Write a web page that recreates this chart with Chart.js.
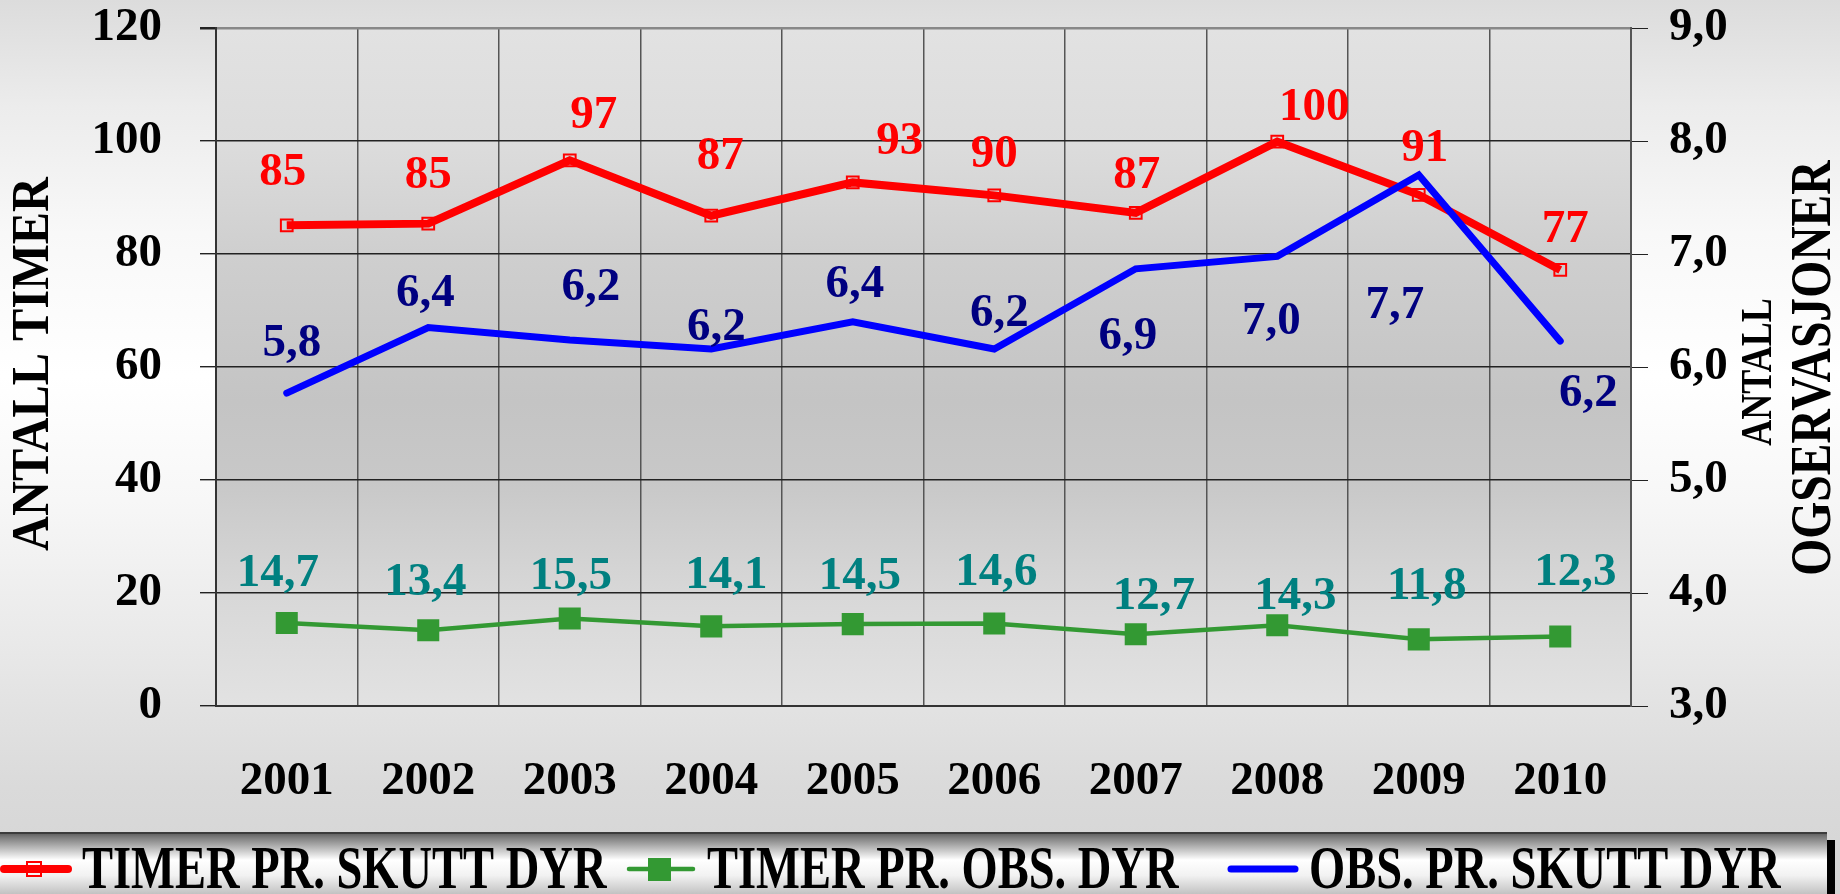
<!DOCTYPE html>
<html>
<head>
<meta charset="utf-8">
<title>Antall timer / observasjoner 2001-2010</title>
<script src="https://cdn.jsdelivr.net/npm/chart.js@4.4.1/dist/chart.umd.min.js"></script>
<style>
    html, body { margin: 0; padding: 0; }
    body {
        width: 1840px;
        height: 894px;
        overflow: hidden;
        background: linear-gradient(to bottom, #dcdcdc 0%, #ececec 12%, #f8f8f8 26%, #ffffff 42%, #f7f7f7 56%, #e9e9e9 72%, #dadada 88%, #d4d4d4 100%);
    }
    canvas { display: block; }
</style>
</head>
<body>
<canvas id="chart" width="1840" height="894"></canvas>
<script>
const years = ['2001', '2002', '2003', '2004', '2005', '2006', '2007', '2008', '2009', '2010'];
const timerPrSkutt = [85.1, 85.4, 96.6, 86.8, 92.7, 90.4, 87.3, 99.9, 90.5, 77.2];
const timerPrObs = [14.7, 13.4, 15.5, 14.1, 14.5, 14.6, 12.7, 14.3, 11.8, 12.3];
const obsPrSkutt = [5.77, 6.35, 6.24, 6.16, 6.40, 6.16, 6.87, 6.98, 7.70, 6.23];
const seriesNames = ['TIMER PR. SKUTT DYR', 'TIMER PR. OBS. DYR', 'OBS. PR. SKUTT DYR'];
const leftTitle = 'ANTALL TIMER';
const rightTitle = ['ANTALL', 'OGSERVASJONER'];

// where each value label sits relative to its point (dx, dy in px)
const redLabelShift = [[-4, -52], [0, -48], [24, -45], [9, -59], [47, -41], [0, -41], [1, -37], [37, -34], [6, -46], [5, -40]];
const greenLabelShift = [[-9, -49], [-3, -47], [1, -42], [15, -50], [7, -47], [2, -51], [18, -37], [18, -28], [8, -52], [15, -64]];
const blueLabelShift = [[5, -49], [-3, -34], [21, -52], [5, -21], [2, -37], [5, -35], [-8, 68], [-6, 65], [-24, 131], [28, 53]];

const FONT = 'Liberation Serif, Times New Roman, serif';

const comma = (v) => (Math.round(v * 10) / 10).toFixed(1).replace('.', ',');

const plotBackground = {
    id: 'plotBackground',
    beforeDraw(chart) {
        const { ctx, chartArea: a } = chart;
        const g = ctx.createLinearGradient(0, a.top, 0, a.bottom);
        g.addColorStop(0, '#e2e2e2');
        g.addColorStop(0.17, '#dcdcdc');
        g.addColorStop(0.33, '#cfcfcf');
        g.addColorStop(0.55, '#c4c4c4');
        g.addColorStop(0.67, '#c8c8c8');
        g.addColorStop(0.84, '#d8d8d8');
        g.addColorStop(1, '#e2e2e2');
        ctx.save();
        ctx.fillStyle = g;
        ctx.fillRect(a.left, a.top, a.right - a.left, a.bottom - a.top);
        ctx.restore();
    },
};

const valueLabels = {
    id: 'valueLabels',
    afterDatasetsDraw(chart) {
        const { ctx } = chart;
        ctx.save();
        ctx.font = `bold 47px ${FONT}`;
        ctx.textAlign = 'center';
        ctx.textBaseline = 'middle';
        chart.data.datasets.forEach((ds, i) => {
            const meta = chart.getDatasetMeta(i);
            meta.data.forEach((pt, j) => {
                const [dx, dy] = ds.labelShift[j];
                ctx.fillStyle = ds.labelColor;
                ctx.fillText(ds.labelText(ds.data[j]), pt.x + dx, pt.y + dy);
            });
        });
        ctx.restore();
    },
};

function drawCondensed(ctx, text, x, y, sx, angle) {
    ctx.save();
    ctx.translate(x, y);
    ctx.rotate(angle);
    ctx.scale(sx, 1);
    ctx.fillText(text, 0, 0);
    ctx.restore();
}

const axisTitles = {
    id: 'axisTitles',
    afterDraw(chart) {
        const { ctx } = chart;
        ctx.save();
        ctx.fillStyle = '#000';
        ctx.textAlign = 'center';
        ctx.textBaseline = 'middle';
        ctx.font = `bold 52px ${FONT}`;
        drawCondensed(ctx, leftTitle, 35, 364, 0.93, -Math.PI / 2);
        ctx.font = `bold 45px ${FONT}`;
        drawCondensed(ctx, rightTitle[0], 1759, 372, 0.8, -Math.PI / 2);
        ctx.font = `bold 56px ${FONT}`;
        drawCondensed(ctx, rightTitle[1], 1816, 368, 0.85, -Math.PI / 2);
        ctx.restore();
    },
};

const legendBar = {
    id: 'legendBar',
    afterDraw(chart) {
        const { ctx } = chart;
        const top = 832;
        const bottom = 894;
        const right = 1827;
        ctx.save();
        ctx.fillStyle = '#000';
        ctx.fillRect(right, top + 8, 8, bottom - top);

        const g = ctx.createLinearGradient(0, top, 0, bottom);
        g.addColorStop(0, '#555555');
        g.addColorStop(0.08, '#7a7a7a');
        g.addColorStop(0.45, '#ffffff');
        g.addColorStop(0.7, '#f2f2f2');
        g.addColorStop(1, '#c2c2c2');
        ctx.fillStyle = g;
        ctx.fillRect(0, top, right, bottom - top);
        ctx.fillStyle = '#3c3c3c';
        ctx.fillRect(0, top, right, 2);

        const starts = [0, 625, 1227];
        const my = 869;
        chart.data.datasets.forEach((ds, i) => {
            const x0 = starts[i];
            ctx.strokeStyle = ds.borderColor;
            ctx.lineWidth = ds.borderWidth;
            ctx.lineCap = 'round';
            ctx.beginPath();
            ctx.moveTo(x0 + 4, my);
            ctx.lineTo(x0 + 68, my);
            ctx.stroke();
            if (i === 0) {
                ctx.lineWidth = 2;
                ctx.strokeRect(x0 + 27, my - 7, 14, 14);
            } else if (i === 1) {
                ctx.fillStyle = ds.pointBackgroundColor;
                ctx.fillRect(x0 + 23, my - 11, 23, 23);
            }
            ctx.fillStyle = '#000';
            ctx.font = `bold 62px ${FONT}`;
            ctx.textAlign = 'left';
            ctx.textBaseline = 'alphabetic';
            drawCondensed(ctx, seriesNames[i], x0 + 82, 888, 0.75, 0);
        });
        ctx.restore();
    },
};

const tickFont = { family: FONT, size: 47, weight: 'bold' };

new Chart(document.getElementById('chart'), {
    type: 'line',
    data: {
        labels: years,
        datasets: [
            {
                label: seriesNames[0],
                data: timerPrSkutt,
                yAxisID: 'y',
                borderColor: '#ff0000',
                borderWidth: 8,
                pointStyle: 'rect',
                pointRadius: 8.3,
                pointBorderWidth: 2,
                pointBorderColor: '#ff0000',
                pointBackgroundColor: 'rgba(0,0,0,0)',
                tension: 0,
                order: 1,
                labelColor: '#ff0000',
                labelShift: redLabelShift,
                labelText: (v) => String(Math.round(v)),
            },
            {
                label: seriesNames[1],
                data: timerPrObs,
                yAxisID: 'y',
                borderColor: '#339933',
                borderWidth: 4.5,
                pointStyle: 'rect',
                pointRadius: 15.6,
                pointBorderWidth: 0,
                pointBackgroundColor: '#339933',
                tension: 0,
                order: 2,
                labelColor: '#008080',
                labelShift: greenLabelShift,
                labelText: comma,
            },
            {
                label: seriesNames[2],
                data: obsPrSkutt,
                yAxisID: 'y2',
                borderColor: '#0000ff',
                borderWidth: 7,
                borderCapStyle: 'round',
                pointRadius: 0,
                tension: 0,
                order: 0,
                labelColor: '#000080',
                labelShift: blueLabelShift,
                labelText: comma,
            },
        ],
    },
    options: {
        responsive: false,
        animation: false,
        devicePixelRatio: 1,
        layout: { padding: { top: 28, bottom: 84, left: 0, right: 0 } },
        plugins: {
            legend: { display: false },
            tooltip: { enabled: false },
        },
        scales: {
            x: {
                offset: true,
                afterFit: (s) => { s.height = 104; },
                grid: { offset: true, color: '#555555', lineWidth: 1.5, drawTicks: false },
                border: { color: '#333333', width: 2 },
                ticks: { font: tickFont, color: '#000', padding: 48, maxRotation: 0 },
            },
            y: {
                position: 'left',
                min: 0,
                max: 120,
                afterFit: (s) => { s.width = 216; },
                grid: {
                    color: (c) => (c.tick && c.tick.value === 120 ? '#888888' : '#222222'),
                    lineWidth: (c) => (c.tick && c.tick.value === 120 ? 2.5 : 1.4),
                    // long tick, dashed so only the 16px next to the axis shows
                    tickLength: 54,
                    tickColor: '#222222',
                    tickBorderDash: [16, 38],
                    tickBorderDashOffset: 16,
                },
                border: { color: '#333333', width: 2 },
                ticks: { stepSize: 20, font: tickFont, color: '#000', padding: 0 },
            },
            y2: {
                position: 'right',
                min: 3,
                max: 9,
                afterFit: (s) => { s.width = 209; },
                grid: {
                    drawOnChartArea: false,
                    tickLength: 38,
                    tickColor: '#222222',
                    tickBorderDash: [16, 22],
                    tickBorderDashOffset: 0,
                },
                border: { color: '#555555', width: 2 },
                ticks: { stepSize: 1, font: tickFont, color: '#000', padding: 0, callback: (v) => comma(v) },
            },
        },
    },
    plugins: [plotBackground, valueLabels, axisTitles, legendBar],
});
</script>
</body>
</html>
